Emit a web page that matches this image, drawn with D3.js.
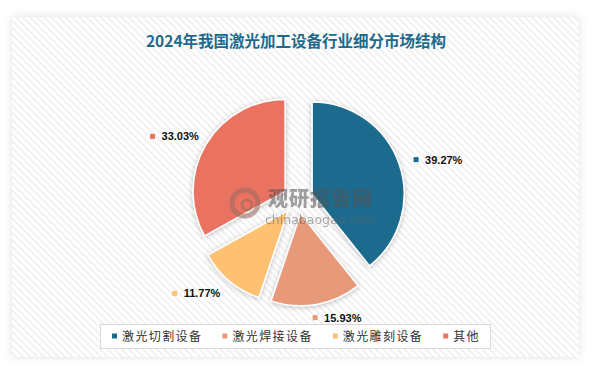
<!DOCTYPE html>
<html lang="zh">
<head>
<meta charset="UTF-8">
<title>2024年我国激光加工设备行业细分市场结构</title>
<script src="https://cdnjs.cloudflare.com/ajax/libs/d3/7.8.5/d3.min.js"></script>
<style>
html, body { margin: 0; padding: 0; background: #fff; }
svg { display: block; }
.title { font-family: "Noto Sans CJK SC", sans-serif; font-weight: 700; font-size: 15.5px; fill: #1d6a8d; }
.pct { font-family: "Liberation Sans", Arial, sans-serif; font-weight: 700; font-size: 11px; fill: #111; }
.legend-text { font-family: "Noto Sans CJK SC", sans-serif; font-size: 12px; letter-spacing: 1.4px; fill: #333; }
</style>
</head>
<body>
<div id="chart"></div>
<script>
// data
var categories = ['激光切割设备', '激光焊接设备', '激光雕刻设备', '其他'];
var shares = [39.27, 15.93, 11.77, 33.03];
var colors = ['#1c6a8e', '#e8997a', '#fec071', '#e97361'];
var chartTitle = '2024年我国激光加工设备行业细分市场结构';

// how far each % label sits from its slice (in radii) and its angle nudge (deg)
var labelRadius = [1.19, 1.14, 1.53, 1.56];
var labelNudge = [1, 2, 14, -8];

var W = 592, H = 369;
var cx = 298, cy = 199, R = 92, explode = 15;

var svg = d3.select('#chart').append('svg')
  .attr('width', W).attr('height', H);

var defs = svg.append('defs');

var pat = defs.append('pattern')
  .attr('id', 'hatch')
  .attr('patternUnits', 'userSpaceOnUse')
  .attr('width', 5).attr('height', 5)
  .attr('patternTransform', 'rotate(45)');
pat.append('rect').attr('width', 5).attr('height', 5).attr('fill', '#fff');
pat.append('rect').attr('width', 5).attr('height', 2).attr('fill', '#f1f1f1');

var panelShadow = defs.append('filter').attr('id', 'panelShadow')
  .attr('x', '-5%').attr('y', '-5%').attr('width', '110%').attr('height', '110%');
panelShadow.append('feDropShadow')
  .attr('dx', 0).attr('dy', 0).attr('stdDeviation', 4)
  .attr('flood-color', '#000').attr('flood-opacity', 0.12);

var sliceShadow = defs.append('filter').attr('id', 'sliceShadow')
  .attr('x', '-30%').attr('y', '-30%').attr('width', '160%').attr('height', '160%');
sliceShadow.append('feDropShadow')
  .attr('dx', 0).attr('dy', 1).attr('stdDeviation', 2.5)
  .attr('flood-color', '#000').attr('flood-opacity', 0.25);

// panel
svg.append('rect')
  .attr('x', 12).attr('y', 17).attr('width', 567).attr('height', 340)
  .attr('fill', 'url(#hatch)')
  .attr('filter', 'url(#panelShadow)');

svg.append('text')
  .attr('class', 'title')
  .attr('x', 296).attr('y', 47)
  .attr('text-anchor', 'middle')
  .text(chartTitle);

// pie
var data = categories.map(function (c, i) {
  return { name: c, value: shares[i], color: colors[i], idx: i };
});

var pie = d3.pie().sort(null).value(function (d) { return d.value; });
var arc = d3.arc().innerRadius(0).outerRadius(R);
var arcs = pie(data);

function mid(d) { return (d.startAngle + d.endAngle) / 2; }

var g = svg.append('g').attr('transform', 'translate(' + cx + ',' + cy + ')');

var slices = g.selectAll('g.slice')
  .data(arcs)
  .enter()
  .append('g')
  .attr('class', 'slice')
  .attr('transform', function (d) {
    var a = mid(d);
    return 'translate(' + (explode * Math.sin(a)) + ',' + (-explode * Math.cos(a)) + ')';
  });

slices.append('path')
  .attr('d', arc)
  .attr('fill', function (d) { return d.data.color; })
  .attr('stroke', '#fff')
  .attr('stroke-width', 1.5)
  .attr('filter', 'url(#sliceShadow)');

// watermark
var wm = svg.append('g').attr('opacity', 0.55);
wm.append('circle').attr('cx', 245).attr('cy', 203).attr('r', 13)
  .attr('fill', 'none').attr('stroke', '#9a6a60').attr('stroke-width', 5);
wm.append('circle').attr('cx', 247).attr('cy', 205).attr('r', 5)
  .attr('fill', 'none').attr('stroke', '#9a6a60').attr('stroke-width', 3);
wm.append('text')
  .attr('x', 268).attr('y', 206)
  .attr('font-family', '"Noto Sans CJK SC", sans-serif')
  .attr('font-weight', 900).attr('font-size', 20).attr('fill', '#555')
  .attr('letter-spacing', 1)
  .text('观研报告网');
wm.append('text')
  .attr('x', 265).attr('y', 224)
  .attr('font-family', '"DejaVu Sans", sans-serif')
  .attr('font-size', 12.5).attr('fill', '#666')
  .text('chinabaogao.com');

// percentage labels
var labels = slices.append('g')
  .attr('transform', function (d) {
    var i = d.data.idx;
    var a = mid(d) + labelNudge[i] * Math.PI / 180;
    var r = R * labelRadius[i];
    return 'translate(' + (r * Math.sin(a)) + ',' + (-r * Math.cos(a)) + ')';
  });

labels.append('rect')
  .attr('x', -2.5).attr('y', -2.5).attr('width', 5).attr('height', 5)
  .attr('fill', function (d) { return d.data.color; });

labels.append('text')
  .attr('class', 'pct')
  .attr('x', 9).attr('y', 4)
  .text(function (d) { return d.data.value.toFixed(2) + '%'; });

// legend
var lg = svg.append('g');
lg.append('rect')
  .attr('x', 100.5).attr('y', 324.5).attr('width', 390).attr('height', 24)
  .attr('fill', '#fff').attr('stroke', '#d9d9d9').attr('stroke-width', 1);

var items = lg.selectAll('g.item')
  .data(data)
  .enter()
  .append('g')
  .attr('class', 'item');

items.append('rect')
  .attr('width', 5).attr('height', 5).attr('y', -2.5)
  .attr('fill', function (d) { return d.color; });

items.append('text')
  .attr('class', 'legend-text')
  .attr('x', 10).attr('y', 4.5)
  .text(function (d) { return d.name; });

var widths = [];
items.each(function () { widths.push(this.querySelector('text').getComputedTextLength() + 10); });
var gap = 20;
var total = d3.sum(widths) + gap * (widths.length - 1);
var x0 = 296 - total / 2;
items.attr('transform', function (d, i) {
  var x = x0 + d3.sum(widths.slice(0, i)) + gap * i;
  return 'translate(' + x + ',336)';
});
</script>
</body>
</html>
